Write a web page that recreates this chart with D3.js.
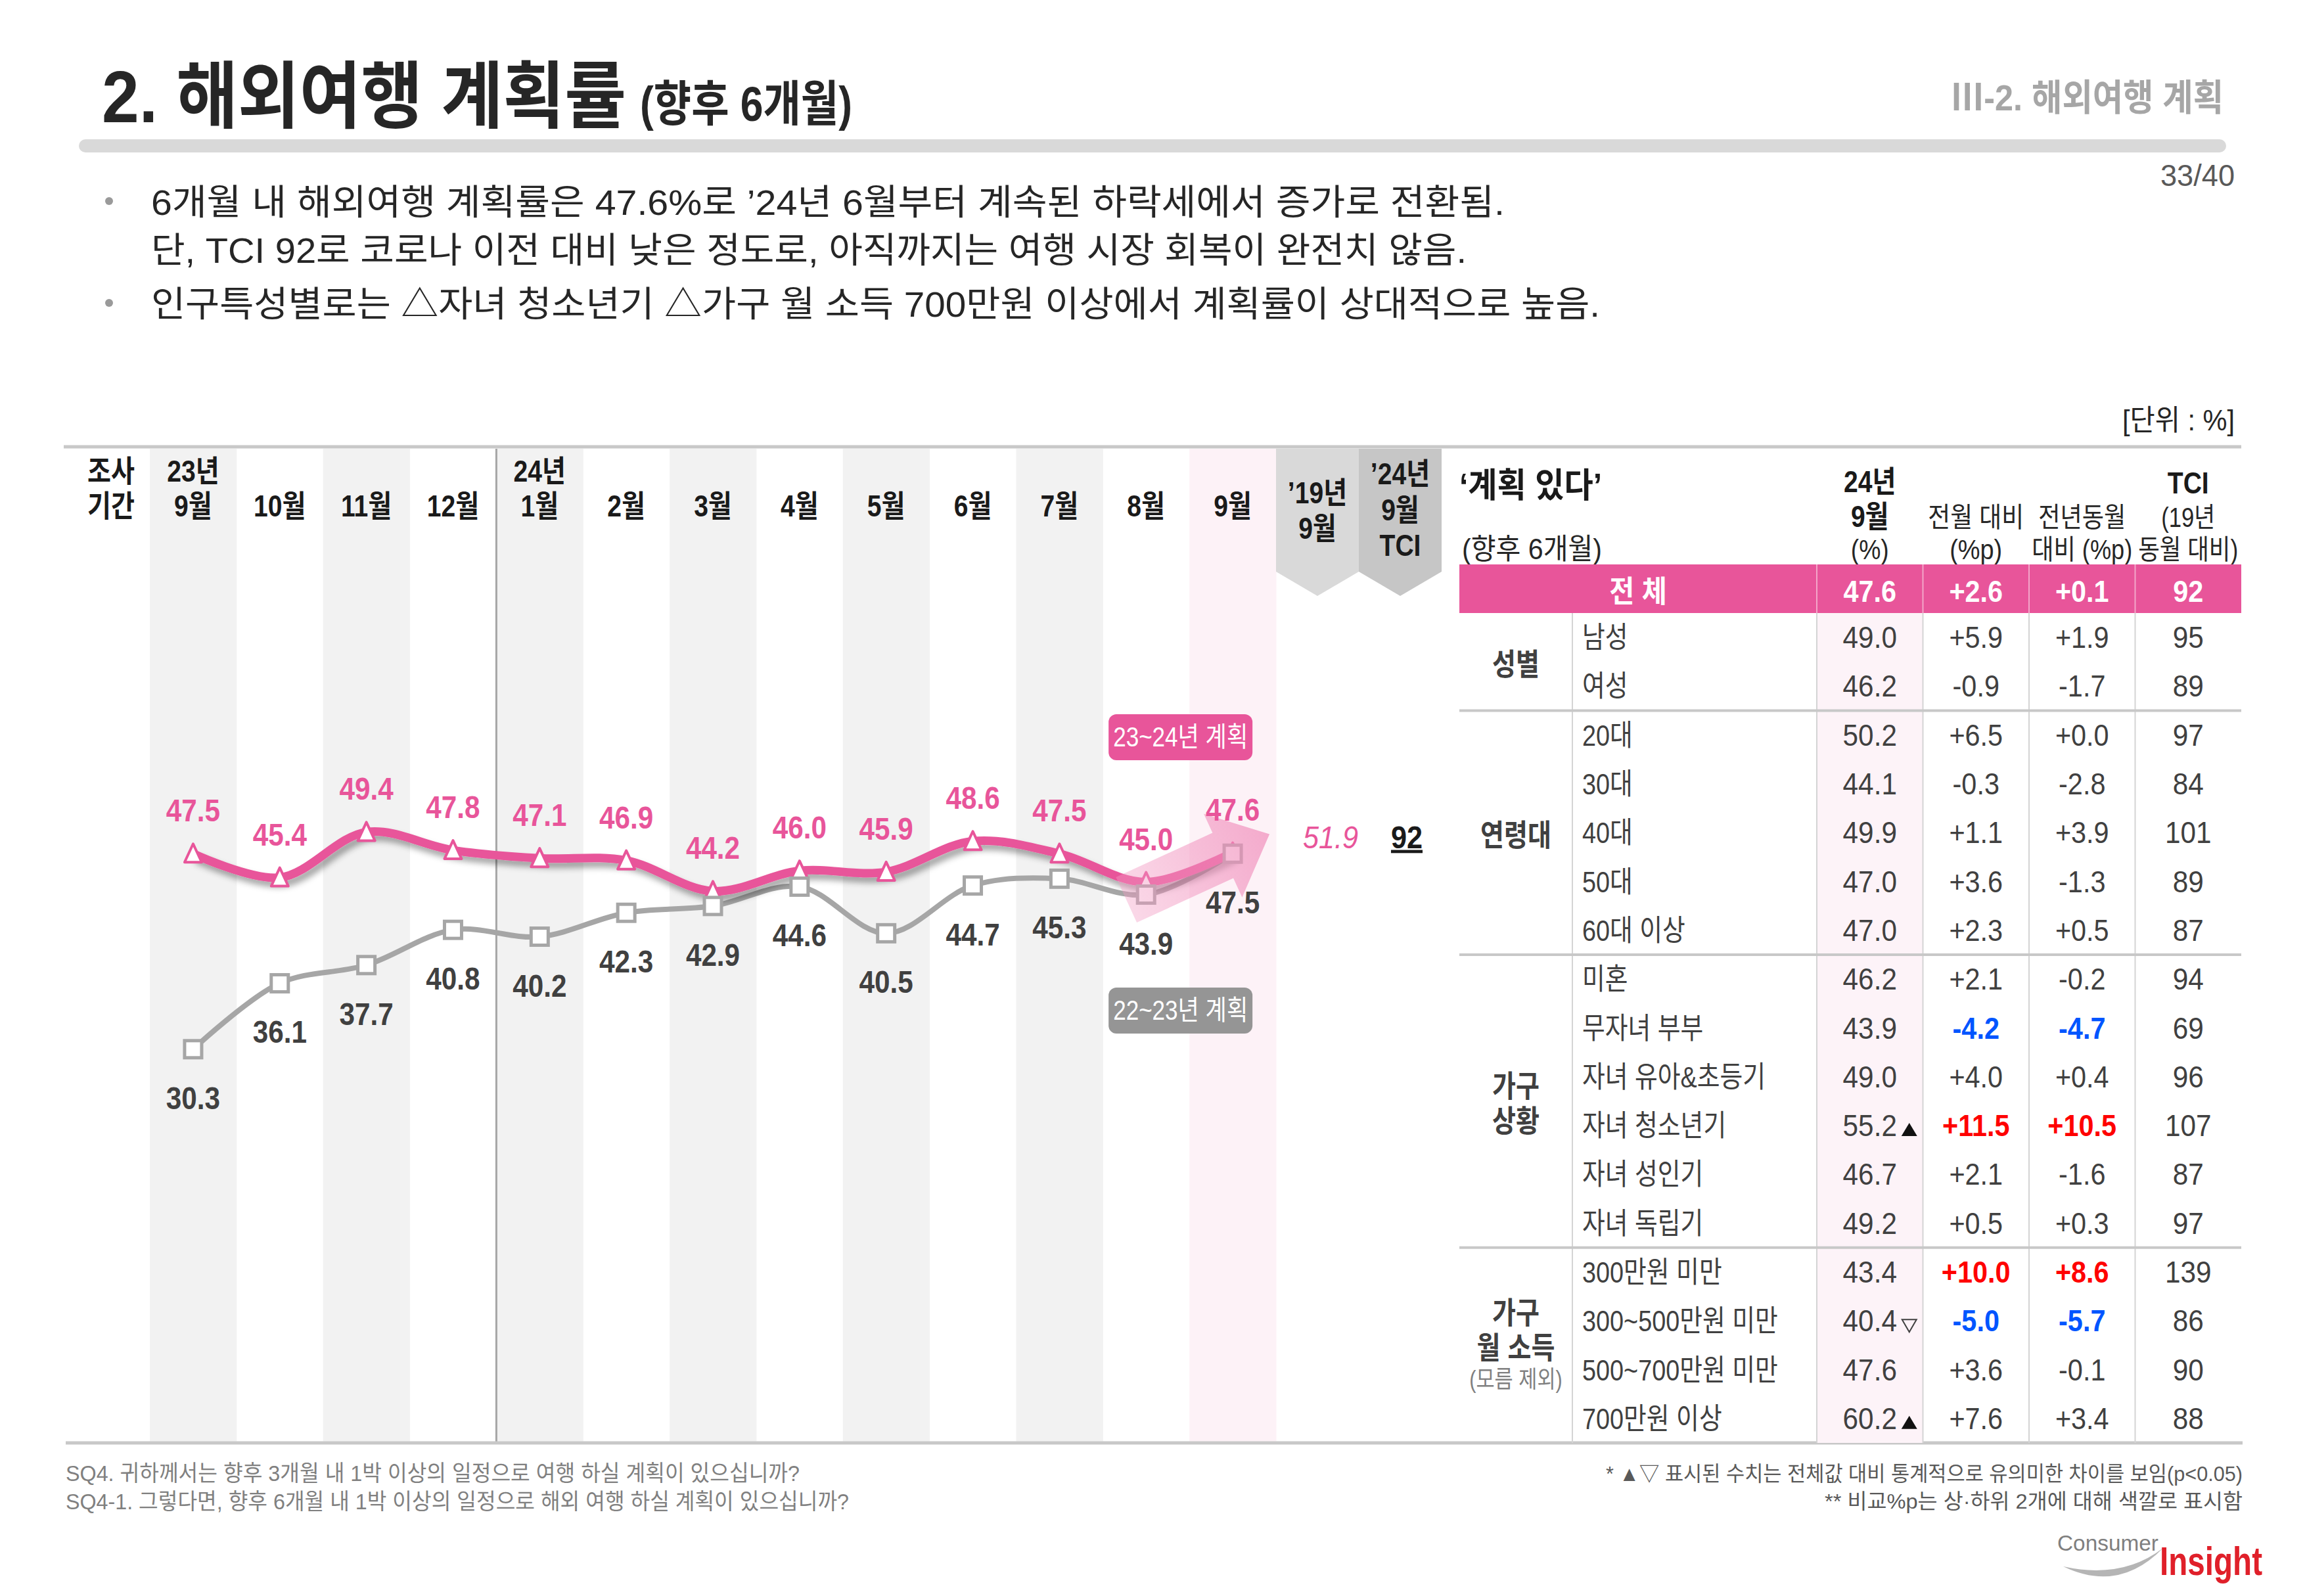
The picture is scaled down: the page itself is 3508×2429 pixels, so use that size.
<!DOCTYPE html>
<html lang="ko">
<head>
<meta charset="UTF-8">
<title>해외여행 계획률</title>
<script src="https://d3js.org/d3.v7.min.js"></script>
<style>
  body { margin: 0; background: #fff; }
  svg { display: block; font-family: "Liberation Sans", "Noto Sans CJK KR", "Noto Sans", sans-serif; }
</style>
</head>
<body>
<svg id="chart" width="3508" height="2429"></svg>
<script>
// ---- data ----
const years = ["23년", "", "", "", "24년", "", "", "", "", "", "", "", ""];
const months = ["9월", "10월", "11월", "12월", "1월", "2월", "3월", "4월", "5월", "6월", "7월", "8월", "9월"];
const plan2324 = [47.5, 45.4, 49.4, 47.8, 47.1, 46.9, 44.2, 46.0, 45.9, 48.6, 47.5, 45.0, 47.6];
const plan2223 = [30.3, 36.1, 37.7, 40.8, 40.2, 42.3, 42.9, 44.6, 40.5, 44.7, 45.3, 43.9, 47.5];
const ref2019 = 51.9;
const tciTotal = 92;

const rowLabels = ["남성", "여성", "20대", "30대", "40대", "50대", "60대 이상",
  "미혼", "무자녀 부부", "자녀 유아&초등기", "자녀 청소년기", "자녀 성인기", "자녀 독립기",
  "300만원 미만", "300~500만원 미만", "500~700만원 미만", "700만원 이상"];
const groupLabels = [["성별"], ["연령대"], ["가구", "상황"], ["가구", "월 소득"]];
const groupNotes = ["", "", "", "(모름 제외)"];
const groupSizes = [2, 5, 6, 4];
const sepValues = [49.0, 46.2, 50.2, 44.1, 49.9, 47.0, 47.0, 46.2, 43.9, 49.0, 55.2, 46.7, 49.2, 43.4, 40.4, 47.6, 60.2];
const momDiff = [5.9, -0.9, 6.5, -0.3, 1.1, 3.6, 2.3, 2.1, -4.2, 4.0, 11.5, 2.1, 0.5, 10.0, -5.0, 3.6, 7.6];
const yoyDiff = [1.9, -1.7, 0.0, -2.8, 3.9, -1.3, 0.5, -0.2, -4.7, 0.4, 10.5, -1.6, 0.3, 8.6, -5.7, -0.1, 3.4];
const tciValues = [95, 89, 97, 84, 101, 89, 87, 94, 69, 96, 107, 87, 97, 139, 86, 90, 88];
const sigMarks = ["", "", "", "", "", "", "", "", "", "", "up", "", "", "", "down", "", "up"];
const totalRow = ["47.6", "+2.6", "+0.1", "92"];

const PINK = "#e8559a", GRAY = "#a6a6a6";

const svg = d3.select("#chart");
const defs = svg.append("defs");

// single-line text, optionally squeezed to a width
function label(g, str, x, y, o = {}) {
    const t = g.append("text")
        .attr("x", x).attr("y", y)
        .attr("font-size", o.size || 44)
        .attr("font-weight", o.bold ? 700 : 400)
        .attr("fill", o.fill || "#262626")
        .attr("text-anchor", o.anchor || "start")
        .text(str);
    if (o.italic) t.attr("font-style", "italic");
    if (o.w) {
        t.attr("textLength", o.w).attr("lengthAdjust", "spacingAndGlyphs");
    } else if (o.k) {
        const len = t.node().getComputedTextLength();
        t.attr("textLength", len * o.k).attr("lengthAdjust", "spacingAndGlyphs");
    }
    return t;
}

// multi-line text in one element, each line squeezed by k or to width w
function stack(g, lines, x, o = {}) {
    const t = g.append("text")
        .attr("text-anchor", o.anchor || "middle")
        .attr("fill", o.fill || "#1a1a1a");
    lines.forEach(([s, yy, lo = {}]) => {
        const bold = lo.bold !== undefined ? lo.bold : o.bold;
        const sp = t.append("tspan").attr("x", x).attr("y", yy).text(s)
            .attr("font-size", lo.size || o.size || 46)
            .attr("font-weight", bold ? 700 : 400);
        if (lo.fill) sp.attr("fill", lo.fill);
        const k = lo.k || o.k;
        if (lo.w) sp.attr("textLength", lo.w).attr("lengthAdjust", "spacingAndGlyphs");
        else if (k) sp.attr("textLength", sp.node().getComputedTextLength() * k).attr("lengthAdjust", "spacingAndGlyphs");
    });
    return t;
}

// ---- page header ----
const header = svg.append("g");
label(header, "2. 해외여행 계획률", 155, 186, {size: 96, bold: true, fill: "#262626", w: 798})
    .attr("transform", "translate(0,186) scale(1,1.16) translate(0,-186)");
label(header, "(향후 6개월)", 974, 184, {size: 74, bold: true, fill: "#262626", w: 323});
header.append("rect").attr("x", 120).attr("y", 212).attr("width", 3268).attr("height", 20)
    .attr("rx", 10).attr("fill", "#d9d9d9");
label(header, "Ⅲ-2. 해외여행 계획", 3384, 168, {size: 56, bold: true, fill: "#a6a6a6", anchor: "end", w: 415});
label(header, "33/40", 3401, 283, {size: 46, fill: "#595959", anchor: "end", w: 113});

// bullets
[327, 482].forEach(yy => header.append("circle").attr("cx", 166).attr("cy", yy - 21).attr("r", 6).attr("fill", "#9a9a9a"));
stack(header, [
    ["6개월 내 해외여행 계획률은 47.6%로 ’24년 6월부터 계속된 하락세에서 증가로 전환됨.", 327, {w: 2060}],
    ["단, TCI 92로 코로나 이전 대비 낮은 정도로, 아직까지는 여행 시장 회복이 완전치 않음.", 400, {w: 2002}]
], 230, {anchor: "start", size: 54, fill: "#262626"});
label(header, "인구특성별로는 △자녀 청소년기 △가구 월 소득 700만원 이상에서 계획률이 상대적으로 높음.", 230, 482,
    {size: 54, fill: "#262626", w: 2205});

// ---- left chart ----
const chartTop = 683, chartBottom = 2194;
const x = d3.scaleBand().domain(d3.range(months.length)).range([228, 1942]);
const xe = d3.scaleBand().domain(["2019", "tci"]).range([1942, 2194]);
const y = d3.scaleLinear().domain([30, 50]).range([1602, 1256]);
const cx = i => x(i) + x.bandwidth() / 2;

const chart = svg.append("g");
chart.selectAll("rect.stripe").data(months).join("rect")
    .attr("class", "stripe")
    .attr("x", (d, i) => x(i)).attr("y", chartTop)
    .attr("width", x.bandwidth() + 0.5).attr("height", chartBottom - chartTop)
    .attr("fill", (d, i) => i === months.length - 1 ? "#fdf2f7" : (i % 2 === 0 ? "#f2f2f2" : "none"));

// year divider
chart.append("line").attr("x1", x(4)).attr("x2", x(4)).attr("y1", chartTop).attr("y2", chartBottom)
    .attr("stroke", "#a6a6a6").attr("stroke-width", 3);

// header labels
const hdr = {size: 46, bold: true, k: 0.85};
stack(chart, [["조사", 733], ["기간", 786]], 169, hdr);
months.forEach((t, i) => {
    const lines = years[i] ? [[years[i], 733], [t, 786]] : [[t, 786]];
    stack(chart, lines, cx(i), hdr);
});

// reference columns with chevrons
[["2019", "#d9d9d9", [["’19년", 766], ["9월", 820]]],
 ["tci", "#c6c6c6", [["’24년", 737], ["9월", 792], ["TCI", 846]]]].forEach(([key, fill, lines]) => {
    const x0 = xe(key), x1 = x0 + xe.bandwidth(), mid = (x0 + x1) / 2;
    chart.append("path")
        .attr("d", `M${x0},${chartTop}H${x1}V870L${mid},907L${x0},870Z`)
        .attr("fill", fill);
    stack(chart, lines, mid, hdr);
});

// shadow filter
defs.append("filter").attr("id", "shadow")
    .attr("x", "-5%").attr("y", "-30%").attr("width", "110%").attr("height", "180%")
    .append("feDropShadow")
    .attr("dx", 5).attr("dy", 8).attr("stdDeviation", 5)
    .attr("flood-color", "#000").attr("flood-opacity", 0.35);

const line = d3.line()
    .x((d, i) => cx(i)).y(d => y(d))
    .curve(d3.curveCatmullRom.alpha(0.5));

chart.append("path").datum(plan2223)
    .attr("d", line).attr("fill", "none")
    .attr("stroke", GRAY).attr("stroke-width", 8);

chart.append("path").datum(plan2324)
    .attr("d", line).attr("fill", "none")
    .attr("stroke", PINK).attr("stroke-width", 13)
    .attr("filter", "url(#shadow)");

// triangles
chart.selectAll("path.tri").data(plan2324).join("path")
    .attr("class", "tri")
    .attr("d", (d, i) => `M${cx(i)},${y(d) - 15}L${cx(i) + 13},${y(d) + 13}L${cx(i) - 13},${y(d) + 13}Z`)
    .attr("fill", "#fff").attr("stroke", PINK).attr("stroke-width", 4).attr("stroke-linejoin", "round");

// squares
chart.selectAll("rect.sq").data(plan2223).join("rect")
    .attr("class", "sq")
    .attr("x", (d, i) => cx(i) - 13).attr("y", d => y(d) - 13)
    .attr("width", 26).attr("height", 26)
    .attr("fill", "#fff").attr("stroke", GRAY).attr("stroke-width", 5);

// pink arrow towards the latest month
const grad = defs.append("linearGradient").attr("id", "arrowGrad")
    .attr("gradientUnits", "userSpaceOnUse");
const tail = [cx(11) - 30, y(43.9) + 8], tip = [cx(12) + 56, y(47.6) - 28];
grad.attr("x1", tail[0]).attr("y1", tail[1]).attr("x2", tip[0]).attr("y2", tip[1]);
grad.append("stop").attr("offset", "0%").attr("stop-color", "#f39cc4").attr("stop-opacity", 0.4);
grad.append("stop").attr("offset", "100%").attr("stop-color", "#f08cba").attr("stop-opacity", 0.7);
{
    const dx = tip[0] - tail[0], dy = tip[1] - tail[1], L = Math.hypot(dx, dy);
    const ux = dx / L, uy = dy / L, nx = -uy, ny = ux;
    const headL = 78, headW = 70, shaftW = 38;
    const bx = tip[0] - ux * headL, by = tip[1] - uy * headL;
    const pts = [
        [tail[0] + nx * shaftW, tail[1] + ny * shaftW],
        [bx + nx * shaftW, by + ny * shaftW],
        [bx + nx * headW, by + ny * headW],
        tip,
        [bx - nx * headW, by - ny * headW],
        [bx - nx * shaftW, by - ny * shaftW],
        [tail[0] - nx * shaftW, tail[1] - ny * shaftW]
    ];
    chart.append("path").attr("d", "M" + pts.map(p => p.join(",")).join("L") + "Z")
        .attr("fill", "url(#arrowGrad)");
}

// value labels
plan2324.forEach((v, i) => label(chart, v.toFixed(1), cx(i), y(v) - 49,
    {size: 48, bold: true, anchor: "middle", fill: PINK, k: 0.88}));
plan2223.forEach((v, i) => label(chart, v.toFixed(1), cx(i), y(v) + 91,
    {size: 48, bold: true, anchor: "middle", fill: "#404040", k: 0.88}));

// legend tags
[["23~24년 계획", PINK, 1087], ["22~23년 계획", "#959595", 1503]].forEach(([t, fill, ty0]) => {
    const w = 219, x0 = x(12) - 123;
    chart.append("rect").attr("x", x0).attr("y", ty0).attr("width", w).attr("height", 70)
        .attr("rx", 12).attr("fill", fill);
    label(chart, t, x0 + w / 2, ty0 + 49, {size: 42, fill: "#fff", anchor: "middle", w: 205});
});

// 2019 reference and TCI
label(chart, ref2019.toFixed(1), xe("2019") + xe.bandwidth() / 2 + 20, y(47.6) - 7,
    {size: 48, italic: true, fill: PINK, anchor: "middle", k: 0.9});
label(chart, String(tciTotal), xe("tci") + xe.bandwidth() / 2 + 10, y(47.6) - 7,
    {size: 48, bold: true, fill: "#1a1a1a", anchor: "middle", k: 0.9})
    .attr("text-decoration", "underline");

// frame lines
svg.append("line").attr("x1", 97).attr("x2", 3411).attr("y1", 680).attr("y2", 680)
    .attr("stroke", "#c8c8c8").attr("stroke-width", 5);
svg.append("line").attr("x1", 100).attr("x2", 3413).attr("y1", 2196).attr("y2", 2196)
    .attr("stroke", "#c8c8c8").attr("stroke-width", 5);

// ---- right table ----
const table = svg.append("g");
label(table, "[단위 : %]", 3401, 655, {size: 44, anchor: "end", fill: "#262626", w: 171});

const tx = d3.scaleBand().domain(["val", "mom", "yoy", "tci"]).range([2765, 3411]);
const ty = d3.scaleBand().domain(d3.range(rowLabels.length)).range([933, 2196]);
const tc = k => tx(k) + tx.bandwidth() / 2;
const tLeft = 2221, tRight = 3411, groupX = 2393;

label(table, "‘계획 있다’", tLeft, 757, {size: 52, bold: true, fill: "#1a1a1a", w: 217});
label(table, "(향후 6개월)", 2225, 851, {size: 44, fill: "#262626", w: 213});
const reg = {size: 42, bold: false, fill: "#262626"};
stack(table, [["24년", 749], ["9월", 802], ["(%)", 851, {...reg, w: 58}]], tc("val"), {size: 46, bold: true, k: 0.85});
stack(table, [["전월 대비", 802, {w: 146}], ["(%p)", 851, {w: 80}]], tc("mom"), {size: 42, fill: "#262626"});
stack(table, [["전년동월", 802, {w: 133}], ["대비 (%p)", 851, {w: 153}]], tc("yoy"), {size: 42, fill: "#262626"});
stack(table, [["TCI", 751, {bold: true, size: 46, k: 0.85}], ["(19년", 802, {...reg, w: 82}], ["동월 대비)", 851, {...reg, w: 152}]],
    tc("tci"), {size: 42, fill: "#1a1a1a"});

// total row
table.append("rect").attr("x", tLeft).attr("y", 859).attr("width", tRight - tLeft).attr("height", 74)
    .attr("fill", PINK);
label(table, "전 체", (tLeft + tx("val")) / 2, 916, {size: 46, bold: true, anchor: "middle", fill: "#fff", k: 0.9});
tx.domain().forEach((k, j) => label(table, totalRow[j], tc(k), 916,
    {size: 46, bold: true, anchor: "middle", fill: "#fff", k: 0.9}));
tx.domain().forEach(k => table.append("line")
    .attr("x1", tx(k)).attr("x2", tx(k)).attr("y1", 859).attr("y2", 933)
    .attr("stroke", "#f3a6c9").attr("stroke-width", 2));

// highlight column
table.append("rect").attr("x", tx("val")).attr("y", 933).attr("width", tx.bandwidth())
    .attr("height", 2196 - 933).attr("fill", "#fdf3f8");

// vertical separators
[groupX].concat(tx.domain().map(k => tx(k))).forEach(xx => table.append("line")
    .attr("x1", xx).attr("x2", xx).attr("y1", 933).attr("y2", 2196)
    .attr("stroke", "#d4d4d4").attr("stroke-width", 2));

// group separators and group labels
let rowStart = 0;
groupSizes.forEach((n, g) => {
    const y0 = ty(rowStart), y1 = ty(rowStart + n - 1) + ty.bandwidth();
    if (g < groupSizes.length - 1) table.append("line")
        .attr("x1", tLeft).attr("x2", tRight).attr("y1", y1).attr("y2", y1)
        .attr("stroke", "#c8c8c8").attr("stroke-width", 4);
    const lines = groupLabels[g].map(t => ({t, size: 46, bold: true, fill: "#404040"}));
    if (groupNotes[g]) lines.push({t: groupNotes[g], size: 36, bold: false, fill: "#808080"});
    const gap = 53, mid = (y0 + y1) / 2 + 4;
    stack(table, lines.map((l, j) => [l.t, mid + (j - (lines.length - 1) / 2) * gap + (l.bold ? 16 : 8),
        {size: l.size, bold: l.bold, fill: l.fill}]), (tLeft + groupX) / 2, {k: 0.85});
    rowStart += n;
});

// body values
const fmt = v => (v >= 0 ? "+" : "") + v.toFixed(1);
function rankColor(arr, i) {
    const sorted = arr.slice().sort((a, b) => b - a);
    if (arr[i] >= sorted[1]) return "#ff0000";
    if (arr[i] <= sorted[sorted.length - 2]) return "#0055ff";
    return null;
}
rowLabels.forEach((t, i) => {
    const yy = ty(i) + ty.bandwidth() / 2 + 16;
    label(table, t, 2408, yy, {size: 45, fill: "#404040", k: 0.84});
    label(table, sepValues[i].toFixed(1), tc("val"), yy, {size: 46, fill: "#404040", anchor: "middle", k: 0.92});
    [["mom", momDiff], ["yoy", yoyDiff]].forEach(([k, arr]) => {
        const c = rankColor(arr, i);
        label(table, fmt(arr[i]), tc(k), yy, {size: 46, bold: !!c, fill: c || "#404040", anchor: "middle", k: 0.9});
    });
    label(table, String(tciValues[i]), tc("tci"), yy, {size: 46, fill: "#404040", anchor: "middle", k: 0.92});
    if (sigMarks[i]) {
        const mx = tc("val") + 60, my = yy - 10;
        const up = sigMarks[i] === "up";
        table.append("path")
            .attr("d", up ? `M${mx},${my - 10}L${mx + 12},${my + 10}L${mx - 12},${my + 10}Z`
                          : `M${mx - 11},${my - 8}L${mx + 11},${my - 8}L${mx},${my + 11}Z`)
            .attr("fill", up ? "#111" : "none")
            .attr("stroke", up ? "none" : "#404040").attr("stroke-width", 2);
    }
});

// ---- footer ----
const foot = svg.append("g");
stack(foot, [
    ["SQ4. 귀하께서는 향후 3개월 내 1박 이상의 일정으로 여행 하실 계획이 있으십니까?", 2254, {w: 1117}],
    ["SQ4-1. 그렇다면, 향후 6개월 내 1박 이상의 일정으로 해외 여행 하실 계획이 있으십니까?", 2297, {w: 1192}]
], 100, {anchor: "start", size: 34, fill: "#808080"});
stack(foot, [
    ["* ▲▽ 표시된 수치는 전체값 대비 통계적으로 유의미한 차이를 보임(p<0.05)", 2254, {w: 969}],
    ["** 비교%p는 상·하위 2개에 대해 색깔로 표시함", 2296, {w: 636}]
], 3413, {anchor: "end", size: 32, fill: "#595959"});

// logo
foot.append("path")
    .attr("d", "M3140,2384 Q3225,2425 3292,2356 Q3230,2404 3140,2384Z")
    .attr("fill", "#b5b5b5");
label(foot, "Consumer", 3131, 2360, {size: 34, fill: "#7f7f7f", w: 154});
label(foot, "Insight", 3287, 2397, {size: 62, bold: true, fill: "#e0202a", w: 156});
</script>
</body>
</html>
